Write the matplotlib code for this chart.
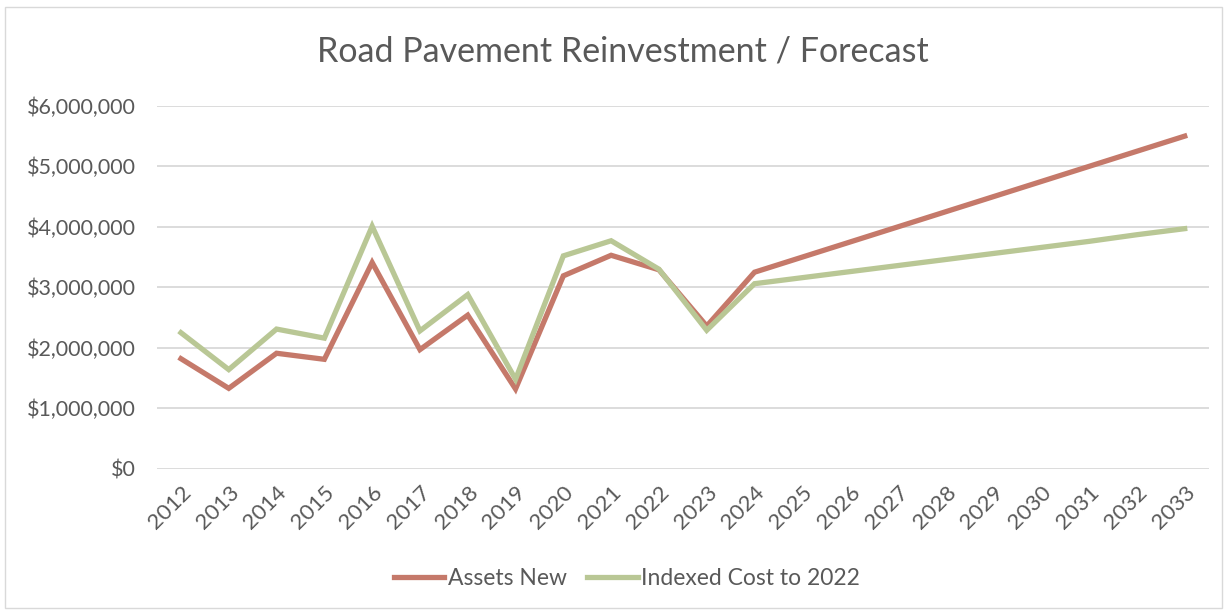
import matplotlib.pyplot as plt
from matplotlib.patches import Rectangle
from matplotlib.ticker import FuncFormatter

years = [str(y) for y in range(2012, 2034)]
assets_new = [1.82, 1.33, 1.91, 1.81, 3.41, 1.97, 2.54, 1.32, 3.19, 3.53, 3.29, 2.36,
              3.25, 3.50, 3.75, 4.00, 4.25, 4.50, 4.75, 5.00, 5.25, 5.50]
indexed_cost = [2.25, 1.64, 2.31, 2.16, 4.01, 2.28, 2.88, 1.48, 3.52, 3.77, 3.30, 2.29,
                3.06, 3.16, 3.26, 3.36, 3.46, 3.56, 3.66, 3.76, 3.87, 3.97]
assets_new = [v * 1e6 for v in assets_new]
indexed_cost = [v * 1e6 for v in indexed_cost]

plt.rcParams['font.family'] = ['Lato', 'DejaVu Sans']
txt = '#595959'

fig = plt.figure(figsize=(12.27, 6.12), dpi=100)
ax = fig.add_axes([0.128, 0.234, 0.857, 0.593])

x = range(len(years))
ax.plot(x, assets_new, color='#C5796A', lw=3.8, solid_joinstyle='miter', label='Assets New')
ax.plot(x, indexed_cost, color='#B9C795', lw=3.8, solid_joinstyle='miter', label='Indexed Cost to 2022')

ax.set_xlim(-0.5, len(years) - 0.5)
ax.set_ylim(0, 6e6)
ax.set_yticks([i * 1e6 for i in range(7)])
ax.yaxis.set_major_formatter(FuncFormatter(lambda v, p: '${:,.0f}'.format(v)))
ax.set_xticks(list(x))
ax.set_xticklabels(years, rotation=45, ha='right', rotation_mode='anchor')
ax.tick_params(length=0, labelsize=16, colors=txt)
ax.tick_params(axis='y', pad=15.5, labelsize=15.5)
ax.tick_params(axis='x', pad=10)
ax.grid(axis='y', color='#D9D9D9', lw=1.3)
ax.set_axisbelow(True)
for s in ax.spines.values():
    s.set_visible(False)

fig.text(0.508, 0.916, 'Road Pavement Reinvestment / Forecast', ha='center', va='center',
         fontsize=24.5, color=txt)

fig.legend(loc='center', bbox_to_anchor=(0.511, 0.055), ncol=2, frameon=False,
           fontsize=16.5, labelcolor=txt, handlelength=2.2, handletextpad=0.15, columnspacing=0.9)

fig.patches.append(Rectangle((0.004, 0.006), 0.992, 0.982, transform=fig.transFigure,
                             fill=False, edgecolor='#D9D9D9', lw=1))

fig.savefig('out.png', dpi=100)
